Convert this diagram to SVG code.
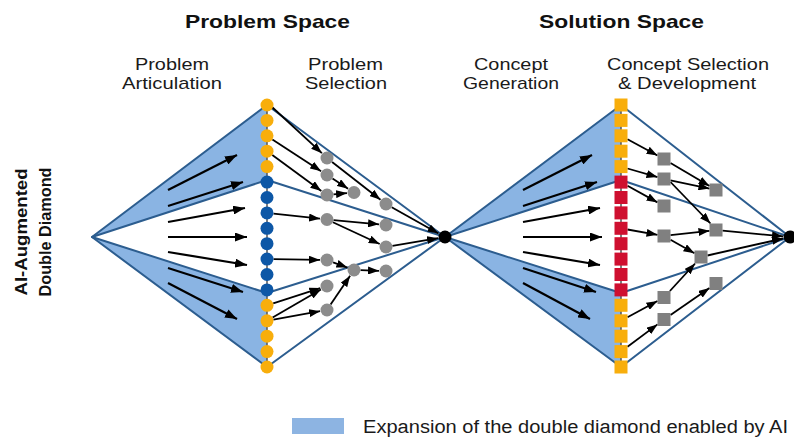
<svg xmlns="http://www.w3.org/2000/svg" width="794" height="437" viewBox="0 0 794 437">
<style>
.t{font-family:"Liberation Sans",Arial,sans-serif;fill:#1a1a1a}
.tb{font-family:"Liberation Sans",Arial,sans-serif;fill:#111;font-weight:bold}
.fill{fill:#8AB4E3;stroke:none}
.edge{fill:none;stroke:#2C5D8F;stroke-width:2;stroke-linejoin:round}
.big{stroke:#000;stroke-width:2.2;fill:none;marker-end:url(#ahb)}
.sm{stroke:#000;stroke-width:1.8;fill:none;marker-end:url(#ahs)}
.spine{stroke:#555;stroke-width:1.5}
.or{fill:#F8AE0C}
.bl{fill:#0D57A6}
.rd{fill:#CF1030}
.gc{fill:#8C8C8C}
.gs{fill:#808080}
</style>
<defs>
<marker id="ahb" markerUnits="userSpaceOnUse" markerWidth="12" markerHeight="9" refX="12" refY="4.5" orient="auto" viewBox="0 0 12 9">
<path d="M0,0 L12,4.5 L0,9 z" fill="#000"/>
</marker>
<marker id="ahs" markerUnits="userSpaceOnUse" markerWidth="11" markerHeight="8" refX="11" refY="4" orient="auto" viewBox="0 0 11 8">
<path d="M0,0 L11,4 L0,8 z" fill="#000"/>
</marker>
</defs>
<rect x="0" y="0" width="794" height="437" fill="#fff"/>

<g id="titles">
<text class="tb" x="185" y="28" font-size="18.5" textLength="165" lengthAdjust="spacingAndGlyphs">Problem Space</text>
<text class="tb" x="539" y="28" font-size="18.5" textLength="165" lengthAdjust="spacingAndGlyphs">Solution Space</text>
<text class="t" x="135" y="70" font-size="17" textLength="74" lengthAdjust="spacingAndGlyphs">Problem</text>
<text class="t" x="122" y="89" font-size="17" textLength="100" lengthAdjust="spacingAndGlyphs">Articulation</text>
<text class="t" x="308" y="70" font-size="17" textLength="75" lengthAdjust="spacingAndGlyphs">Problem</text>
<text class="t" x="305" y="89" font-size="17" textLength="82" lengthAdjust="spacingAndGlyphs">Selection</text>
<text class="t" x="474" y="70" font-size="17" textLength="74" lengthAdjust="spacingAndGlyphs">Concept</text>
<text class="t" x="463" y="89" font-size="17" textLength="96" lengthAdjust="spacingAndGlyphs">Generation</text>
<text class="t" x="607" y="70" font-size="17" textLength="162" lengthAdjust="spacingAndGlyphs">Concept Selection</text>
<text class="t" x="618" y="89" font-size="17" textLength="138" lengthAdjust="spacingAndGlyphs">&amp; Development</text>
<text class="tb" transform="translate(27,232) rotate(-90)" text-anchor="middle" font-size="16" textLength="127" lengthAdjust="spacingAndGlyphs">AI-Augmented</text>
<text class="tb" transform="translate(51,232) rotate(-90)" text-anchor="middle" font-size="16" textLength="129" lengthAdjust="spacingAndGlyphs">Double Diamond</text>
</g>

<g id="diamond-fills">
<polygon class="fill" points="92,237 267,105 267,180"/>
<polygon class="fill" points="92,237 267,367 267,293"/>
<polygon class="fill" points="445,237 621,105 621,180"/>
<polygon class="fill" points="445,237 621,367 621,293"/>
</g>

<g id="connectors">
<polygon class="edge" points="92,237 267,105 445,237 267,367"/>
<polygon class="edge" points="92,237 267,180 445,237 267,293"/>
<polygon class="edge" points="445,237 621,105 790,237 621,367"/>
<polygon class="edge" points="445,237 621,180 790,237 621,293"/>

<line class="big" x1="168" y1="190" x2="237" y2="155"/>
<line class="big" x1="168" y1="206" x2="243" y2="182"/>
<line class="big" x1="168" y1="222" x2="245" y2="208"/>
<line class="big" x1="168" y1="237" x2="247" y2="237"/>
<line class="big" x1="168" y1="252" x2="247" y2="265"/>
<line class="big" x1="168" y1="268" x2="243" y2="292"/>
<line class="big" x1="168" y1="283" x2="237" y2="319"/>

<line class="big" x1="523" y1="190" x2="592" y2="155"/>
<line class="big" x1="523" y1="206" x2="597" y2="182"/>
<line class="big" x1="523" y1="222" x2="600" y2="208"/>
<line class="big" x1="523" y1="237" x2="602" y2="237"/>
<line class="big" x1="523" y1="252" x2="600" y2="265"/>
<line class="big" x1="523" y1="268" x2="596" y2="292"/>
<line class="big" x1="523" y1="283" x2="590" y2="319"/>

<line class="sm" x1="272" y1="107" x2="321.9" y2="153.2"/>
<line class="sm" x1="272.4" y1="139.4" x2="321.1" y2="171.2"/>
<line class="sm" x1="272.3" y1="155" x2="321.3" y2="190.9"/>
<line class="sm" x1="332.1" y1="162" x2="380.5" y2="199.7"/>
<line class="sm" x1="332.5" y1="178.5" x2="348.1" y2="188.7"/>
<line class="sm" x1="333.5" y1="194.4" x2="347" y2="193.1"/>
<line class="sm" x1="391.7" y1="207.2" x2="438.5" y2="233.5"/>
<line class="sm" x1="273.5" y1="213.6" x2="320" y2="218.7"/>
<line class="sm" x1="333.5" y1="220.1" x2="379" y2="224.3"/>
<line class="sm" x1="332.9" y1="222.2" x2="379.7" y2="244"/>
<line class="sm" x1="392.4" y1="245.9" x2="438.1" y2="238.2"/>
<line class="sm" x1="273.5" y1="259.2" x2="320" y2="259.9"/>
<line class="sm" x1="333.1" y1="262.3" x2="347.4" y2="267.6"/>
<line class="sm" x1="360.5" y1="270.2" x2="379" y2="270.8"/>
<line class="sm" x1="273.2" y1="303.3" x2="320.3" y2="288.1"/>
<line class="sm" x1="272.6" y1="317.5" x2="320.9" y2="289.5"/>
<line class="sm" x1="273.4" y1="319.6" x2="320.1" y2="311.2"/>
<line class="sm" x1="330.6" y1="304.6" x2="350.1" y2="275.8"/>

<line class="sm" x1="627.5" y1="139.3" x2="657.5" y2="155.5"/>
<line class="sm" x1="627.5" y1="168.5" x2="657.5" y2="177.1"/>
<line class="sm" x1="627.5" y1="185.7" x2="657.5" y2="202.4"/>
<line class="sm" x1="670.5" y1="162.9" x2="709.5" y2="186.1"/>
<line class="sm" x1="670.5" y1="180.4" x2="709.5" y2="188.6"/>
<line class="sm" x1="670.5" y1="182" x2="710.5" y2="223.5"/>
<line class="sm" x1="627.5" y1="229.5" x2="657.5" y2="234.8"/>
<line class="sm" x1="670.5" y1="235.2" x2="709.5" y2="230.8"/>
<line class="sm" x1="670.5" y1="239.7" x2="694.5" y2="253.3"/>
<line class="sm" x1="722.5" y1="230.6" x2="783" y2="236.4"/>
<line class="sm" x1="707.5" y1="255.5" x2="783" y2="238.5"/>
<line class="sm" x1="627.5" y1="317.3" x2="657.5" y2="301"/>
<line class="sm" x1="627.5" y1="346.7" x2="657.5" y2="324.4"/>
<line class="sm" x1="669.9" y1="291" x2="695.1" y2="263.5"/>
<line class="sm" x1="670.5" y1="315" x2="709.5" y2="288"/>
</g>

<g id="problem-column">
<line class="spine" x1="267" y1="105" x2="267" y2="367"/>
<circle class="or" cx="267" cy="105" r="6.5"/>
<circle class="or" cx="267" cy="120.4" r="6.5"/>
<circle class="or" cx="267" cy="135.8" r="6.5"/>
<circle class="or" cx="267" cy="151.2" r="6.5"/>
<circle class="or" cx="267" cy="166.6" r="6.5"/>
<circle class="bl" cx="267" cy="182.1" r="6.5"/>
<circle class="bl" cx="267" cy="197.5" r="6.5"/>
<circle class="bl" cx="267" cy="212.9" r="6.5"/>
<circle class="bl" cx="267" cy="228.3" r="6.5"/>
<circle class="bl" cx="267" cy="243.7" r="6.5"/>
<circle class="bl" cx="267" cy="259.1" r="6.5"/>
<circle class="bl" cx="267" cy="274.5" r="6.5"/>
<circle class="bl" cx="267" cy="289.9" r="6.5"/>
<circle class="or" cx="267" cy="305.3" r="6.5"/>
<circle class="or" cx="267" cy="320.8" r="6.5"/>
<circle class="or" cx="267" cy="336.2" r="6.5"/>
<circle class="or" cx="267" cy="351.6" r="6.5"/>
<circle class="or" cx="267" cy="367" r="6.5"/>
</g>

<g id="concept-column">
<line class="spine" x1="621" y1="105" x2="621" y2="367"/>
<rect class="or" x="614.5" y="98.5" width="13" height="13"/>
<rect class="or" x="614.5" y="113.9" width="13" height="13"/>
<rect class="or" x="614.5" y="129.3" width="13" height="13"/>
<rect class="or" x="614.5" y="144.7" width="13" height="13"/>
<rect class="or" x="614.5" y="160.1" width="13" height="13"/>
<rect class="rd" x="614.5" y="175.6" width="13" height="13"/>
<rect class="rd" x="614.5" y="191" width="13" height="13"/>
<rect class="rd" x="614.5" y="206.4" width="13" height="13"/>
<rect class="rd" x="614.5" y="221.8" width="13" height="13"/>
<rect class="rd" x="614.5" y="237.2" width="13" height="13"/>
<rect class="rd" x="614.5" y="252.6" width="13" height="13"/>
<rect class="rd" x="614.5" y="268" width="13" height="13"/>
<rect class="rd" x="614.5" y="283.4" width="13" height="13"/>
<rect class="or" x="614.5" y="298.8" width="13" height="13"/>
<rect class="or" x="614.5" y="314.3" width="13" height="13"/>
<rect class="or" x="614.5" y="329.7" width="13" height="13"/>
<rect class="or" x="614.5" y="345.1" width="13" height="13"/>
<rect class="or" x="614.5" y="360.5" width="13" height="13"/>
</g>

<g id="hub-problem"><circle cx="445" cy="237" r="6.5" fill="#000"/></g>
<g id="hub-solution"><circle cx="790" cy="237" r="6.5" fill="#000"/></g>

<g id="problem-selection-nodes">
<g id="g1"><circle class="gc" cx="327" cy="158" r="6.5"/></g>
<g id="g2"><circle class="gc" cx="327" cy="175" r="6.5"/></g>
<g id="g3"><circle class="gc" cx="327" cy="195" r="6.5"/></g>
<g id="g4"><circle class="gc" cx="354" cy="192.5" r="6.5"/></g>
<g id="g5"><circle class="gc" cx="386" cy="204" r="6.5"/></g>
<g id="g6"><circle class="gc" cx="327" cy="219.5" r="6.5"/></g>
<g id="g7"><circle class="gc" cx="386" cy="225" r="6.5"/></g>
<g id="g8"><circle class="gc" cx="386" cy="247" r="6.5"/></g>
<g id="g9"><circle class="gc" cx="327" cy="260" r="6.5"/></g>
<g id="g10"><circle class="gc" cx="354" cy="270" r="6.5"/></g>
<g id="g11"><circle class="gc" cx="386" cy="271" r="6.5"/></g>
<g id="g12"><circle class="gc" cx="327" cy="286" r="6.5"/></g>
<g id="g13"><circle class="gc" cx="327" cy="310" r="6.5"/></g>
</g>

<g id="concept-selection-nodes">
<g id="s1"><rect class="gs" x="657.5" y="152.5" width="13" height="13"/></g>
<g id="s2"><rect class="gs" x="657.5" y="172.5" width="13" height="13"/></g>
<g id="s3"><rect class="gs" x="657.5" y="199.5" width="13" height="13"/></g>
<g id="s4"><rect class="gs" x="709.5" y="183.5" width="13" height="13"/></g>
<g id="s5"><rect class="gs" x="709.5" y="223.5" width="13" height="13"/></g>
<g id="s6"><rect class="gs" x="657.5" y="229.5" width="13" height="13"/></g>
<g id="s7"><rect class="gs" x="694.5" y="250.5" width="13" height="13"/></g>
<g id="s8"><rect class="gs" x="657.5" y="291" width="13" height="13"/></g>
<g id="s9"><rect class="gs" x="709.5" y="277" width="13" height="13"/></g>
<g id="s10"><rect class="gs" x="657.5" y="313" width="13" height="13"/></g>
</g>

<g id="legend">
<rect x="292" y="418" width="52" height="16" fill="#8DB4E2"/>
<text class="t" x="363" y="432.5" font-size="18" textLength="425" lengthAdjust="spacingAndGlyphs">Expansion of the double diamond enabled by AI</text>
</g>
</svg>
